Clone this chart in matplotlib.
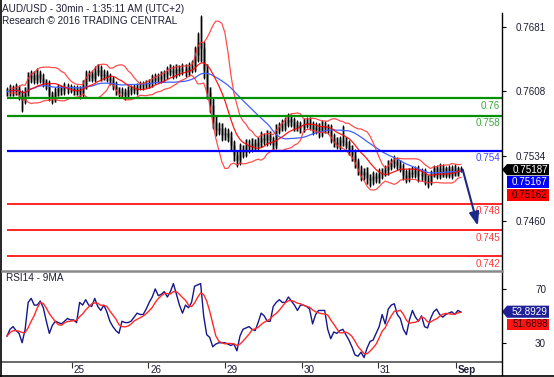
import numpy as np
import pandas as pd
import matplotlib
matplotlib.use("Agg")
import matplotlib.pyplot as plt
from matplotlib.patches import Polygon
from matplotlib.lines import Line2D
from matplotlib.transforms import IdentityTransform

plt.rcParams['font.family'] = ['Liberation Sans', 'DejaVu Sans']

W, H, DPI = 554, 377, 100

# ---------------- data (hourly-ish bars) ----------------
close = [
    0.7607, 0.7610, 0.7608, 0.7611, 0.7604, 0.7598, 0.7607, 0.7623, 0.7626, 0.7621,
    0.7627, 0.7623, 0.7618, 0.7615, 0.7604, 0.7600, 0.7607, 0.7611, 0.7609, 0.7613,
    0.7610, 0.7611, 0.7608, 0.7610, 0.7606, 0.7615, 0.7625, 0.7627, 0.7623, 0.7630,
    0.7632, 0.7625, 0.7627, 0.7623, 0.7621, 0.7614, 0.7609, 0.7606, 0.7607, 0.7604,
    0.7609, 0.7611, 0.7609, 0.7613, 0.7614, 0.7615, 0.7616, 0.7617, 0.7621, 0.7623,
    0.7622, 0.7625, 0.7627, 0.7630, 0.7632, 0.7628, 0.7633, 0.7631, 0.7634, 0.7630,
    0.7635, 0.7636, 0.7649, 0.7664, 0.7657, 0.7632, 0.7607, 0.7592, 0.7573, 0.7564,
    0.7566, 0.7558, 0.7560, 0.7556, 0.7547, 0.7535, 0.7530, 0.7541, 0.7539, 0.7547,
    0.7544, 0.7549, 0.7546, 0.7550, 0.7555, 0.7552, 0.7558, 0.7552, 0.7547, 0.7564,
    0.7567, 0.7569, 0.7572, 0.7576, 0.7573, 0.7567, 0.7569, 0.7566, 0.7571, 0.7573,
    0.7569, 0.7564, 0.7567, 0.7561, 0.7568, 0.7566, 0.7564, 0.7555, 0.7550, 0.7547,
    0.7552, 0.7550, 0.7547, 0.7541, 0.7535, 0.7527, 0.7518, 0.7513, 0.7516, 0.7509,
    0.7507, 0.7511, 0.7509, 0.7514, 0.7516, 0.7518, 0.7523, 0.7526, 0.7528, 0.7524,
    0.7521, 0.7513, 0.7509, 0.7516, 0.7514, 0.7518, 0.7511, 0.7515, 0.7507, 0.7505,
    0.7513, 0.7520, 0.7512, 0.7521, 0.7513, 0.7520, 0.7512, 0.7521, 0.7514, 0.7520,
    0.75187,
]
# wick sizes in pips above max(open, close) / below min(open, close)
wick_up = [
    5, 6, 5, 6, 4, 5, 6, 7, 6, 5,
    7, 5, 5, 4, 5, 4, 5, 5, 4, 5,
    4, 5, 4, 5, 4, 6, 7, 5, 5, 6,
    7, 5, 6, 5, 5, 4, 5, 4, 5, 4,
    5, 4, 5, 4, 5, 4, 5, 5, 6, 5,
    5, 6, 5, 6, 7, 5, 6, 5, 6, 5,
    6, 7, 10, 11, 30, 8, 7, 6, 8, 7,
    7, 6, 7, 6, 6, 5, 6, 8, 6, 7,
    6, 6, 5, 6, 7, 5, 6, 5, 5, 7,
    6, 7, 6, 7, 6, 5, 6, 5, 6, 5,
    6, 5, 6, 5, 7, 6, 5, 6, 5, 6,
    5, 17, 6, 5, 6, 7, 5, 6, 5, 6,
    5, 6, 5, 6, 5, 6, 7, 6, 7, 5,
    6, 5, 6, 5, 7, 5, 6, 5, 5, 6,
    5, 4, 4, 5, 4, 3, 4, 3, 4, 3,
    3,
]
wick_dn = [
    5, 5, 6, 5, 6, 14, 5, 5, 6, 5,
    5, 6, 5, 6, 7, 7, 5, 5, 6, 5,
    5, 4, 5, 5, 7, 5, 5, 6, 5, 5,
    5, 6, 5, 5, 6, 5, 6, 5, 5, 6,
    5, 5, 4, 5, 4, 5, 4, 5, 5, 5,
    5, 5, 6, 5, 5, 6, 5, 6, 5, 6,
    5, 6, 6, 8, 16, 10, 8, 9, 8, 7,
    6, 7, 6, 6, 7, 7, 8, 6, 7, 6,
    6, 5, 6, 5, 6, 5, 6, 5, 6, 5,
    5, 5, 6, 5, 6, 5, 5, 6, 5, 5,
    5, 6, 5, 6, 5, 6, 5, 6, 6, 5,
    6, 5, 5, 6, 7, 7, 6, 7, 6, 7,
    8, 6, 5, 6, 6, 5, 6, 5, 5, 6,
    5, 6, 5, 4, 5, 5, 6, 5, 6, 7,
    4, 3, 4, 4, 3, 4, 3, 4, 3, 3,
    3,
]
rsi14 = [
    35, 40, 42, 39, 37, 30, 40, 60, 63, 58,
    58, 61, 56, 46, 37, 43, 46, 45, 44, 46,
    48, 47, 47, 45, 60, 58, 62, 58, 57, 63,
    57, 54, 58, 53, 46, 42, 39, 37, 46, 45,
    45, 46, 49, 52, 51, 51, 55, 60, 64, 70,
    65, 66, 68, 64, 68, 74, 66, 58, 52, 58,
    56, 60, 72, 73, 74, 50, 36, 34, 27, 29,
    30, 30, 30, 29, 28, 29, 24, 35, 40, 41,
    42, 40, 39, 45, 52, 50, 46, 46, 57, 60,
    62, 60, 60, 64, 61, 58, 54, 58, 58, 57,
    55, 44, 51, 54, 54, 54, 40, 33, 38, 37,
    39, 40, 36, 32, 27, 21, 20, 23, 19, 26,
    31, 32, 37, 42, 51, 44, 55, 58, 59, 51,
    48, 40, 36, 47, 54, 49, 46, 50, 42, 41,
    48, 53, 55, 51, 49, 51, 52, 53, 51, 54,
    52.89,
]

green_levels = [0.760, 0.758]
blue_levels = [0.754]
red_levels = [0.748, 0.745, 0.742]
target_price = 0.7455

price_ticks = [0.7681, 0.7608, 0.7534, 0.7460]
rsi_ticks = [70, 30]
day_labels = ["25", "26", "29", "30", "31", "Sep"]
day_start = [21.4, 46.7, 72.1, 97.4, 122.7, 148.4]   # bar index where each day starts

quote_labels = ["0.75187", "0.75167", "0.75162"]
rsi_labels = ["52.8929", "51.6898"]

# ---------------- derived series ----------------
n = len(close)
x = np.arange(n)
c = np.array(close)
o = np.r_[c[0], c[:-1]]
hi = np.maximum(o, c) + np.array(wick_up) * 1e-4
lo = np.minimum(o, c) - np.array(wick_dn) * 1e-4

s = pd.Series(c)
mid = s.rolling(10, min_periods=2).mean()
sd = s.rolling(10, min_periods=2).std(ddof=0)
bb_up = mid + 2 * sd
bb_lo = mid - 2 * sd
ma = s.rolling(25, min_periods=1).mean()
rsi = pd.Series(rsi14, dtype=float)
rsi_ma = rsi.rolling(5, min_periods=1).mean()

# ---------------- figure ----------------
fig = plt.figure(figsize=(W / DPI, H / DPI), dpi=DPI)
fig.patch.set_facecolor('white')

def fx(px):
    return px / W

def fy(py):
    return 1 - py / H

XMIN, XMAX = -1.65, 163.6
ax = fig.add_axes([fx(2), fy(270), fx(502) - fx(2), fy(2) - fy(270)])
axr = fig.add_axes([fx(2), fy(362), fx(502) - fx(2), fy(270) - fy(362)])

TXT = '#1e1e34'
FS = 7.1

# main panel
ax.set_xlim(XMIN, XMAX)
ax.set_ylim(0.740459, 0.770914)
for sp in ax.spines.values():
    sp.set_visible(False)
ax.set_xticks([])
ax.yaxis.tick_right()
ax.set_yticks(price_ticks)
ax.set_yticklabels([f"{v:.4f}" for v in price_ticks])
ax.tick_params(axis='y', direction='out', length=3.2, width=0.8, color='black',
               pad=28.5, labelsize=FS, labelcolor=TXT)
for t in ax.get_yticklabels():
    t.set_horizontalalignment('right')

ax.vlines(x, lo + 0.00008, hi - 0.00008, color='#a3a3a3', lw=2.2, zorder=2)
ax.vlines(x, np.minimum(o, c), np.maximum(o, c), color='#7c7c7c', lw=2.2, zorder=2)
ax.vlines(x, lo, hi, color='black', lw=0.75, zorder=3)

ax.plot(x, ma, color='#4060ff', lw=0.9, zorder=4)
ax.plot(x, bb_up, color='#ff3030', lw=0.9, alpha=0.85, zorder=4)
ax.plot(x, bb_lo, color='#ff3030', lw=0.9, alpha=0.85, zorder=4)
ax.plot(x, mid, color='#ff0000', lw=0.9, alpha=0.9, zorder=4)

def level(lv, lc, tc, lw):
    ax.hlines(lv, 0, XMAX, color=lc, lw=lw, zorder=5)
    ax.annotate(f"{lv:g}", xy=(1, lv), xycoords=('axes fraction', 'data'),
                xytext=(-1.2, -1.8), textcoords='offset points', ha='right', va='top',
                fontsize=FS, color=tc, zorder=6)

for lv in green_levels:
    level(lv, '#009200', '#3caa3c', 1.6)
for lv in blue_levels:
    level(lv, '#0000ff', '#4848ff', 1.6)
for lv in red_levels:
    level(lv, '#ff0000', '#ff3a3a', 1.2)

ax.annotate('', xy=(155.6, target_price), xytext=(150.6, c[-1]),
            arrowprops=dict(arrowstyle='-|>,head_width=0.3,head_length=0.8',
                            color='#1c2a86', lw=1.5, shrinkA=0, shrinkB=0),
            annotation_clip=False, zorder=7)

# RSI panel
axr.set_xlim(XMIN, XMAX)
axr.set_ylim(15.7, 84.07)
for k, sp in axr.spines.items():
    sp.set_visible(k == 'bottom')
axr.spines['bottom'].set_color('#505050')
axr.spines['bottom'].set_linewidth(1.2)
axr.set_xticks(day_start)
axr.tick_params(axis='x', direction='out', length=4, width=0.8, color='#303030',
                labelbottom=False)
axr.yaxis.tick_right()
axr.set_yticks(rsi_ticks)
axr.set_yticklabels([str(v) for v in rsi_ticks])
axr.tick_params(axis='y', direction='out', length=3.2, width=0.8, color='black',
                pad=28.5, labelsize=FS, labelcolor=TXT)
for t in axr.get_yticklabels():
    t.set_horizontalalignment('right')
axr.plot(x, rsi, color='#16168a', lw=1.0, zorder=3)
axr.plot(x, rsi_ma, color='#ff2a2a', lw=1.0, zorder=4)

for pos, lab in zip(day_start, day_labels):
    axr.annotate(lab, xy=(pos, 0), xycoords=('data', 'axes fraction'),
                 xytext=(1.3, -5.6), textcoords='offset points', ha='left', va='center',
                 fontsize=FS, color=TXT, fontweight='bold' if lab == 'Sep' else 'normal')

# texts
fig.text(fx(1.5), fy(9), "AUD/USD - 30min - 1:35:11 AM (UTC+2)", fontsize=7.2,
         color=TXT, va='center', ha='left')
fig.text(fx(1.5), fy(21), "Research \u00a9 2016 TRADING CENTRAL", fontsize=7.2,
         color=TXT, va='center', ha='left')
fig.text(fx(6), fy(278), "RSI14 - 9MA", fontsize=7.2, color=TXT, va='center', ha='left')

# frame lines
fig.add_artist(Line2D([fx(0.6), fx(0.6)], [fy(0), fy(376)], color='black', lw=1.2))
fig.add_artist(Line2D([0, 1], [fy(375.5), fy(375.5)], color='black', lw=1.2))
fig.add_artist(Line2D([fx(502), fx(502)], [fy(13), fy(375)], color='black', lw=1.0))
fig.add_artist(Line2D([fx(2), fx(502)], [fy(270.5), fy(270.5)], color='#8a8a8a', lw=1.8))

# value boxes
def box(ytop, ybot, color, text, tcolor, arrow=False):
    x0, x1 = 507, 549
    pts = [(x0, ytop), (x1, ytop), (x1, ybot), (x0, ybot)]
    if arrow:
        pts.append((502, (ytop + ybot) / 2))
    poly = Polygon([(px, H - py) for px, py in pts], closed=True, facecolor=color,
                   edgecolor='none', transform=IdentityTransform())
    fig.add_artist(poly)
    fig.text(fx(530), fy((ytop + ybot) / 2), text, fontsize=FS, color=tcolor,
             ha='center', va='center')

cy = H - ax.transData.transform((0, c[-1]))[1]
box(cy - 5.5, cy + 5.7, 'black', quote_labels[0], 'white', arrow=True)
box(cy + 6.7, cy + 18.5, '#0000ff', quote_labels[1], 'white')
box(cy + 19.5, cy + 31.0, '#ff0000', quote_labels[2], '#2a0000')

ry = H - axr.transData.transform((0, rsi.iloc[-1]))[1]
box(ry - 6.3, ry + 5.8, '#1f1f98', rsi_labels[0], 'white', arrow=True)
box(ry + 6.6, ry + 18.3, '#ff1414', rsi_labels[1], '#3a0000')

fig.savefig('out.png', dpi=DPI, facecolor='white')
